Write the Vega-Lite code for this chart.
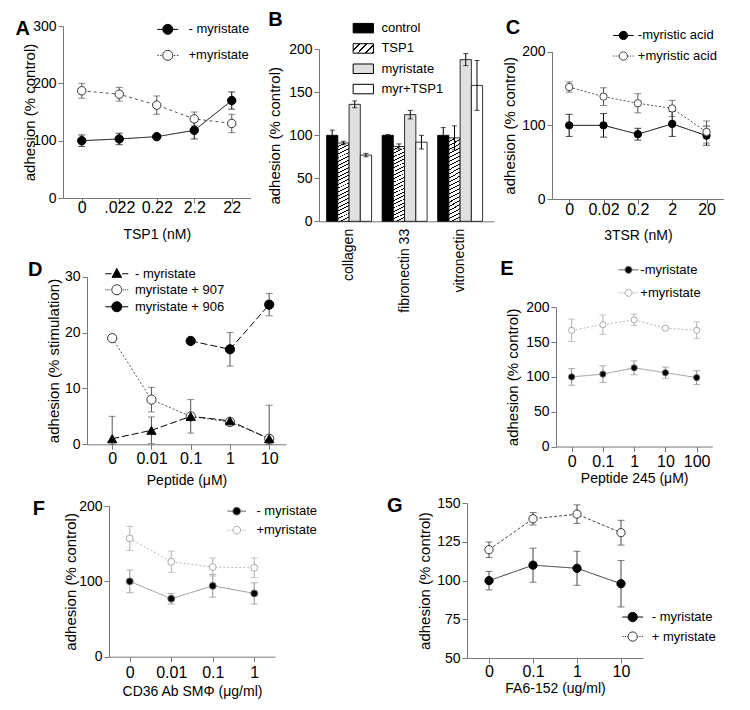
{
"$schema": "https://vega.github.io/schema/vega-lite/v6.json",
"background": "white",
"padding": {"left": 15, "top": 5, "right": 5, "bottom": 5},
"columns": 7,
"align": "none",
"bounds": "flush",
"spacing": 0,
"resolve": {"scale": {"color": "independent", "fill": "independent", "stroke": "independent", "strokeDash": "independent", "shape": "independent"}, "legend": {"color": "independent", "fill": "independent", "stroke": "independent", "strokeDash": "independent", "shape": "independent"}},
"config": {
 "view": {"stroke": null},
 "font": "Liberation Sans",
 "axis": {"domainColor": "#777", "tickColor": "#777", "tickSize": 5, "labelColor": "black", "titleColor": "black", "titleFontWeight": "normal", "grid": false, "labelFont": "Liberation Sans", "titleFont": "Liberation Sans"},
 "axisX": {"labelFontSize": 16, "titleFontSize": 14, "labelAngle": 0, "labelPadding": 2},
 "axisY": {"labelFontSize": 14, "titleFontSize": 15, "labelPadding": 2},
 "legend": {"labelFont": "Liberation Sans", "labelFontSize": 13, "labelColor": "black", "padding": 0, "offset": 0, "symbolStrokeWidth": 1, "symbolOpacity": 1},
 "title": {"font": "Liberation Sans", "fontSize": 20, "fontWeight": "bold", "color": "black", "anchor": "start", "frame": "group", "offset": 0}
},
"datasets": {
 "A": [
  {"c":"0","s":"- myristate","v":100,"lo":90,"hi":110},
  {"c":".022","s":"- myristate","v":103,"lo":93,"hi":113},
  {"c":"0.22","s":"- myristate","v":107,"lo":104,"hi":110},
  {"c":"2.2","s":"- myristate","v":118,"lo":103,"hi":133},
  {"c":"22","s":"- myristate","v":170,"lo":155,"hi":185},
  {"c":"0","s":"+myristate","v":187,"lo":174,"hi":200},
  {"c":".022","s":"+myristate","v":181,"lo":169,"hi":193},
  {"c":"0.22","s":"+myristate","v":162,"lo":146,"hi":178},
  {"c":"2.2","s":"+myristate","v":138,"lo":126,"hi":150},
  {"c":"22","s":"+myristate","v":130,"lo":114,"hi":146}
 ],
 "B": [
  {"sub":"collagen","t":"control","v":100,"lo":94,"hi":106},
  {"sub":"collagen","t":"TSP1","v":91,"lo":89,"hi":93},
  {"sub":"collagen","t":"myristate","v":136,"lo":132,"hi":140},
  {"sub":"collagen","t":"myr+TSP1","v":77,"lo":75,"hi":79},
  {"sub":"fibronectin 33","t":"control","v":100,"lo":99,"hi":101},
  {"sub":"fibronectin 33","t":"TSP1","v":87,"lo":84,"hi":90},
  {"sub":"fibronectin 33","t":"myristate","v":124,"lo":119,"hi":129},
  {"sub":"fibronectin 33","t":"myr+TSP1","v":92,"lo":84,"hi":100},
  {"sub":"vitronectin","t":"control","v":100,"lo":91,"hi":109},
  {"sub":"vitronectin","t":"TSP1","v":97,"lo":83,"hi":111},
  {"sub":"vitronectin","t":"myristate","v":188,"lo":181,"hi":195},
  {"sub":"vitronectin","t":"myr+TSP1","v":158,"lo":129,"hi":187}
 ],
 "C": [
  {"c":"0","s":"-myristic acid","v":100,"lo":85,"hi":115},
  {"c":"0.02","s":"-myristic acid","v":100,"lo":84,"hi":116},
  {"c":"0.2","s":"-myristic acid","v":88,"lo":80,"hi":96},
  {"c":"2","s":"-myristic acid","v":102,"lo":85,"hi":119},
  {"c":"20","s":"-myristic acid","v":86,"lo":73,"hi":99},
  {"c":"0","s":"+myristic acid","v":152,"lo":145,"hi":159},
  {"c":"0.02","s":"+myristic acid","v":139,"lo":127,"hi":151},
  {"c":"0.2","s":"+myristic acid","v":130,"lo":117,"hi":143},
  {"c":"2","s":"+myristic acid","v":123,"lo":112,"hi":134},
  {"c":"20","s":"+myristic acid","v":91,"lo":76,"hi":106}
 ],
 "D": [
  {"c":"0","s":"myristate + 907","v":19,"lo":null,"hi":null},
  {"c":"0.01","s":"myristate + 907","v":8,"lo":5.8,"hi":10.2},
  {"c":"0.1","s":"myristate + 907","v":5,"lo":null,"hi":null},
  {"c":"1","s":"myristate + 907","v":4,"lo":null,"hi":null},
  {"c":"10","s":"myristate + 907","v":1,"lo":null,"hi":null},
  {"c":"0.1","s":"myristate + 906","v":18.5,"lo":null,"hi":null},
  {"c":"1","s":"myristate + 906","v":17,"lo":14,"hi":20},
  {"c":"10","s":"myristate + 906","v":25,"lo":23,"hi":27},
  {"c":"0","s":"- myristate","v":1,"lo":0,"hi":5},
  {"c":"0.01","s":"- myristate","v":2.5,"lo":0.1,"hi":4.9},
  {"c":"0.1","s":"- myristate","v":5,"lo":2,"hi":8},
  {"c":"1","s":"- myristate","v":4.2,"lo":3.8,"hi":4.6},
  {"c":"10","s":"- myristate","v":1,"lo":0,"hi":7}
 ],
 "E": [
  {"c":"0","s":"-myristate","v":100,"lo":88,"hi":112},
  {"c":"0.1","s":"-myristate","v":104,"lo":92,"hi":116},
  {"c":"1","s":"-myristate","v":113,"lo":103,"hi":123},
  {"c":"10","s":"-myristate","v":106,"lo":98,"hi":114},
  {"c":"100","s":"-myristate","v":99,"lo":89,"hi":109},
  {"c":"0","s":"+myristate","v":167,"lo":151,"hi":183},
  {"c":"0.1","s":"+myristate","v":175,"lo":161,"hi":189},
  {"c":"1","s":"+myristate","v":182,"lo":174,"hi":190},
  {"c":"10","s":"+myristate","v":170,"lo":168,"hi":172},
  {"c":"100","s":"+myristate","v":167,"lo":155,"hi":179}
 ],
 "F": [
  {"c":"0","s":"- myristate","v":100,"lo":85,"hi":115},
  {"c":"0.01","s":"- myristate","v":77,"lo":70,"hi":84},
  {"c":"0.1","s":"- myristate","v":94,"lo":79,"hi":109},
  {"c":"1","s":"- myristate","v":84,"lo":70,"hi":98},
  {"c":"0","s":"+myristate","v":157,"lo":141,"hi":173},
  {"c":"0.01","s":"+myristate","v":126,"lo":112,"hi":140},
  {"c":"0.1","s":"+myristate","v":119,"lo":107,"hi":131},
  {"c":"1","s":"+myristate","v":118,"lo":105,"hi":131}
 ],
 "G": [
  {"c":"0","s":"- myristate","v":100,"lo":94,"hi":106},
  {"c":"0.1","s":"- myristate","v":110,"lo":99,"hi":121},
  {"c":"1","s":"- myristate","v":108,"lo":97,"hi":119},
  {"c":"10","s":"- myristate","v":98,"lo":83,"hi":113},
  {"c":"0","s":"+ myristate","v":120,"lo":115,"hi":125},
  {"c":"0.1","s":"+ myristate","v":140,"lo":136,"hi":144},
  {"c":"1","s":"+ myristate","v":143,"lo":137,"hi":149},
  {"c":"10","s":"+ myristate","v":131,"lo":123,"hi":139}
 ],
 "empty": []
},
"concat": [
  {"width": 23.5, "height": 193, "data": {"name": "A"},
   "title": {"text": "A", "dx": -47.5, "dy": 37.7},
   "encoding": {"x": {"field": "c", "type": "ordinal", "sort": ["0",".022","0.22","2.2","22"], "scale": {"type": "point", "padding": 0.5, "range": [0, 187.5]}, "axis": {"title": "TSP1 (nM)", "labelPadding": -3.5, "titlePadding": 11.5}}},
   "layer": [
    {"mark": {"type": "errorbar", "ticks": {"size": 7}}, "encoding": {"y": {"field": "lo", "type": "quantitative", "title": "adhesion (% control)", "scale": {"domain": [0,300], "nice": false, "range": [193, 21]}, "axis": {"values": [0,100,200,300], "titlePadding": -4.4}}, "y2": {"field": "hi"}, "color": {"condition": {"test": "datum.s === '+myristate'", "value": "#555"}, "value": "black"}}},
    {"mark": {"type": "line", "strokeWidth": 1}, "encoding": {"y": {"field": "v", "type": "quantitative", "title": "adhesion (% control)"}, "detail": {"field": "s"}, "color": {"condition": {"test": "datum.s === '+myristate'", "value": "#555"}, "value": "black"}, "strokeDash": {"condition": {"test": "datum.s === '+myristate'", "value": [3,3]}, "value": [1,0]}}},
    {"mark": {"type": "point", "filled": false, "opacity": 1, "size": 71, "strokeWidth": 1}, "encoding": {"y": {"field": "v", "type": "quantitative", "title": "adhesion (% control)"},
      "stroke": {"field": "s", "type": "nominal", "scale": {"domain": ["- myristate","+myristate"], "range": ["black","#333"]}, "legend": {"orient": "none", "legendX": 93.8, "legendY": 13.35, "title": null, "symbolSize": 441, "labelOffset": 9.7, "rowPadding": 8}},
      "fill": {"field": "s", "type": "nominal", "scale": {"domain": ["- myristate","+myristate"], "range": ["black","white"]}, "legend": {"orient": "none", "legendX": 93.8, "legendY": 13.35, "title": null, "symbolSize": 441, "labelOffset": 9.7, "rowPadding": 8}}}},
    {"mark": {"type": "point", "opacity": 0}, "encoding": {"y": {"field": "v", "type": "quantitative", "title": "adhesion (% control)"},
      "shape": {"field": "s", "type": "nominal", "scale": {"domain": ["- myristate","+myristate"], "range": ["M-1,0H-0.476M0.476,0H1M0.476,0A0.476,0.476,0,1,1,-0.476,0A0.476,0.476,0,1,1,0.476,0Z", "M-1,0H-0.86M-0.72,0H-0.58M0.58,0H0.72M0.86,0H1M0.476,0A0.476,0.476,0,1,1,-0.476,0A0.476,0.476,0,1,1,0.476,0Z"]}, "legend": {"orient": "none", "legendX": 93.8, "legendY": 13.35, "title": null, "symbolSize": 441, "labelOffset": 9.7, "rowPadding": 8}}}}
   ]},
  {"width": 21.3, "height": 250, "data": {"name": "empty"}, "mark": "point"},
  {"width": 209.4, "height": 1, "data": {"name": "empty"}, "mark": "point"},
  {"width": 147.3, "height": 216.3, "data": {"name": "B"},
     "title": {"text": "B", "dx": -50.7, "dy": 29},
     "encoding": {
      "x": {"field": "sub", "type": "nominal", "sort": ["collagen","fibronectin 33","vitronectin"], "scale": {"range": [0, 175], "paddingInner": 0.19, "paddingOuter": 0.171, "align": 0.4}, "axis": {"title": null, "labelAngle": -90, "labelAlign": "right", "labelBaseline": "middle", "labelPadding": 7, "ticks": false, "labelFontSize": 14}},
      "xOffset": {"field": "t", "type": "nominal", "sort": ["control","TSP1","myristate","myr+TSP1"], "scale": {"paddingInner": 0, "paddingOuter": 0}}
     },
     "layer": [
      {"mark": {"type": "bar", "stroke": "black", "strokeWidth": 0.8},
       "encoding": {"y": {"field": "v", "type": "quantitative", "title": "adhesion (% control)", "scale": {"domain": [0,200], "nice": false, "range": [216.3, 44.3]}, "axis": {"values": [0,50,100,150,200], "titlePadding": 6}},
        "fill": {"condition": {"test": "datum.t === 'TSP1'", "value": {"gradient": "linear", "x1": 0, "y1": 0, "x2": 0.0757, "y2": 1.066, "stops": [
{"offset":0,"color":"white"},{"offset":0.0341,"color":"white"},{"offset":0.0341,"color":"black"},{"offset":0.0455,"color":"black"},
{"offset":0.0455,"color":"white"},{"offset":0.0795,"color":"white"},{"offset":0.0795,"color":"black"},{"offset":0.0909,"color":"black"},
{"offset":0.0909,"color":"white"},{"offset":0.125,"color":"white"},{"offset":0.125,"color":"black"},{"offset":0.1364,"color":"black"},
{"offset":0.1364,"color":"white"},{"offset":0.1705,"color":"white"},{"offset":0.1705,"color":"black"},{"offset":0.1818,"color":"black"},
{"offset":0.1818,"color":"white"},{"offset":0.2159,"color":"white"},{"offset":0.2159,"color":"black"},{"offset":0.2273,"color":"black"},
{"offset":0.2273,"color":"white"},{"offset":0.2614,"color":"white"},{"offset":0.2614,"color":"black"},{"offset":0.2727,"color":"black"},
{"offset":0.2727,"color":"white"},{"offset":0.3068,"color":"white"},{"offset":0.3068,"color":"black"},{"offset":0.3182,"color":"black"},
{"offset":0.3182,"color":"white"},{"offset":0.3523,"color":"white"},{"offset":0.3523,"color":"black"},{"offset":0.3636,"color":"black"},
{"offset":0.3636,"color":"white"},{"offset":0.3977,"color":"white"},{"offset":0.3977,"color":"black"},{"offset":0.4091,"color":"black"},
{"offset":0.4091,"color":"white"},{"offset":0.4432,"color":"white"},{"offset":0.4432,"color":"black"},{"offset":0.4545,"color":"black"},
{"offset":0.4545,"color":"white"},{"offset":0.4886,"color":"white"},{"offset":0.4886,"color":"black"},{"offset":0.5,"color":"black"},
{"offset":0.5,"color":"white"},{"offset":0.5341,"color":"white"},{"offset":0.5341,"color":"black"},{"offset":0.5455,"color":"black"},
{"offset":0.5455,"color":"white"},{"offset":0.5795,"color":"white"},{"offset":0.5795,"color":"black"},{"offset":0.5909,"color":"black"},
{"offset":0.5909,"color":"white"},{"offset":0.625,"color":"white"},{"offset":0.625,"color":"black"},{"offset":0.6364,"color":"black"},
{"offset":0.6364,"color":"white"},{"offset":0.6705,"color":"white"},{"offset":0.6705,"color":"black"},{"offset":0.6818,"color":"black"},
{"offset":0.6818,"color":"white"},{"offset":0.7159,"color":"white"},{"offset":0.7159,"color":"black"},{"offset":0.7273,"color":"black"},
{"offset":0.7273,"color":"white"},{"offset":0.7614,"color":"white"},{"offset":0.7614,"color":"black"},{"offset":0.7727,"color":"black"},
{"offset":0.7727,"color":"white"},{"offset":0.8068,"color":"white"},{"offset":0.8068,"color":"black"},{"offset":0.8182,"color":"black"},
{"offset":0.8182,"color":"white"},{"offset":0.8523,"color":"white"},{"offset":0.8523,"color":"black"},{"offset":0.8636,"color":"black"},
{"offset":0.8636,"color":"white"},{"offset":0.8977,"color":"white"},{"offset":0.8977,"color":"black"},{"offset":0.9091,"color":"black"},
{"offset":0.9091,"color":"white"},{"offset":0.9432,"color":"white"},{"offset":0.9432,"color":"black"},{"offset":0.9545,"color":"black"},
{"offset":0.9545,"color":"white"},{"offset":0.9886,"color":"white"},{"offset":0.9886,"color":"black"},{"offset":1,"color":"black"}]}},
         "field": "t", "type": "nominal", "scale": {"domain": ["control","TSP1","myristate","myr+TSP1"], "range": ["black", {"expr": "{gradient: 'linear', x1: 0, y1: 0, x2: 1.205, y2: 0.545, stops: [{offset: 0, color: 'white'}, {offset: 0.1875, color: 'white'}, {offset: 0.1875, color: 'black'}, {offset: 0.25, color: 'black'}, {offset: 0.25, color: 'white'}, {offset: 0.4375, color: 'white'}, {offset: 0.4375, color: 'black'}, {offset: 0.5, color: 'black'}, {offset: 0.5, color: 'white'}, {offset: 0.6875, color: 'white'}, {offset: 0.6875, color: 'black'}, {offset: 0.75, color: 'black'}, {offset: 0.75, color: 'white'}, {offset: 0.9375, color: 'white'}, {offset: 0.9375, color: 'black'}, {offset: 1, color: 'black'}]}"}, "#e0e0e0", "white"]},
         "legend": {"orient": "none", "legendX": 33.3, "legendY": 12.15, "title": null, "symbolSize": 412, "symbolType": "M-1,-0.468H1V0.468H-1Z", "symbolStrokeColor": "black", "labelOffset": 7.1, "rowPadding": 2.3}}}},
      {"mark": {"type": "rule", "color": "black", "strokeWidth": 1}, "encoding": {"y": {"field": "lo", "type": "quantitative", "title": "adhesion (% control)"}, "y2": {"field": "hi"}}},
      {"mark": {"type": "tick", "color": "black", "thickness": 1, "size": 5, "orient": "horizontal"}, "encoding": {"y": {"field": "lo", "type": "quantitative", "title": "adhesion (% control)"}}},
      {"mark": {"type": "tick", "color": "black", "thickness": 1, "size": 5, "orient": "horizontal"}, "encoding": {"y": {"field": "hi", "type": "quantitative", "title": "adhesion (% control)"}}}
     ]},
  {"width": 84.3, "height": 1, "data": {"name": "empty"}, "mark": "point"},
  {"width": 3.4, "height": 194, "data": {"name": "C"},
     "title": {"text": "C", "dx": -46.3, "dy": 36.7},
     "encoding": {"x": {"field": "c", "type": "ordinal", "sort": ["0","0.02","0.2","2","20"], "scale": {"type": "point", "padding": 0.5, "range": [0, 171.7]}, "axis": {"title": "3TSR (nM)", "labelPadding": -3, "titlePadding": 11}}},
     "layer": [
      {"mark": {"type": "errorbar", "ticks": {"size": 7}}, "encoding": {"y": {"field": "lo", "type": "quantitative", "title": "adhesion (% control)", "scale": {"domain": [0,200], "nice": false, "range": [194, 46.7]}, "axis": {"values": [0,100,200], "titlePadding": 4.1}}, "y2": {"field": "hi"}, "color": {"condition": {"test": "datum.s === '+myristic acid'", "value": "#555"}, "value": "black"}}},
      {"mark": {"type": "line", "strokeWidth": 1}, "encoding": {"y": {"field": "v", "type": "quantitative", "title": "adhesion (% control)"}, "detail": {"field": "s"}, "color": {"condition": {"test": "datum.s === '+myristic acid'", "value": "#555"}, "value": "black"}, "strokeDash": {"condition": {"test": "datum.s === '+myristic acid'", "value": [2,2]}, "value": [1,0]}}},
      {"mark": {"type": "point", "filled": false, "opacity": 1, "size": 54, "strokeWidth": 1}, "encoding": {"y": {"field": "v", "type": "quantitative", "title": "adhesion (% control)"},
        "stroke": {"field": "s", "type": "nominal", "scale": {"domain": ["-myristic acid","+myristic acid"], "range": ["black","#444"]}, "legend": {"orient": "none", "legendX": 60.4, "legendY": 19.45, "title": null, "symbolSize": 424, "labelOffset": 3.4, "rowPadding": 2.6}},
        "fill": {"field": "s", "type": "nominal", "scale": {"domain": ["-myristic acid","+myristic acid"], "range": ["black","white"]}, "legend": {"orient": "none", "legendX": 60.4, "legendY": 19.45, "title": null, "symbolSize": 424, "labelOffset": 3.4, "rowPadding": 2.6}}}},
      {"mark": {"type": "point", "opacity": 0}, "encoding": {"y": {"field": "v", "type": "quantitative", "title": "adhesion (% control)"},
        "shape": {"field": "s", "type": "nominal", "scale": {"domain": ["-myristic acid","+myristic acid"], "range": ["M-1,0H-0.403M0.403,0H1M0.403,0A0.403,0.403,0,1,1,-0.403,0A0.403,0.403,0,1,1,0.403,0Z", "M-1,0H-0.88M-0.76,0H-0.64M-0.52,0H-0.42M0.42,0H0.52M0.64,0H0.76M0.88,0H1M0.403,0A0.403,0.403,0,1,1,-0.403,0A0.403,0.403,0,1,1,0.403,0Z"]}, "legend": {"orient": "none", "legendX": 60.4, "legendY": 19.45, "title": null, "symbolSize": 424, "labelOffset": 3.4, "rowPadding": 2.6}}}}
     ]},
  {"width": 1, "height": 1, "data": {"name": "empty"}, "mark": "point"},
  {"width": 1, "height": 233, "data": {"name": "empty"}, "mark": "point"},
  {"width": 21.3, "height": 189.3, "data": {"name": "D"},
    "title": {"text": "D", "dx": -59, "dy": 28.5},
    "encoding": {"x": {"field": "c", "type": "ordinal", "sort": ["0","0.01","0.1","1","10"], "scale": {"type": "point", "padding": 0.535, "align": 0.6, "range": [0, 199]}, "axis": {"title": "Peptide (μM)", "labelPadding": 1, "titlePadding": 7}}},
    "layer": [
     {"mark": {"type": "errorbar", "ticks": {"size": 7}, "color": "#555"}, "encoding": {"y": {"field": "lo", "type": "quantitative", "title": "adhesion (% stimulation)", "scale": {"domain": [0,30], "nice": false, "range": [189.3, 21.7]}, "axis": {"values": [0,10,20,30], "titlePadding": 2.9}}, "y2": {"field": "hi"}}},
     {"mark": {"type": "line", "strokeWidth": 1}, "encoding": {"y": {"field": "v", "type": "quantitative", "title": "adhesion (% stimulation)"}, "detail": {"field": "s"}, "strokeDash": {"condition": {"test": "datum.s === 'myristate + 907'", "value": [2,2]}, "value": [7,3]}, "color": {"condition": {"test": "datum.s === 'myristate + 907'", "value": "#555"}, "value": "black"}}},
     {"mark": {"type": "point", "filled": false, "opacity": 1, "size": 85, "strokeWidth": 1}, "encoding": {"y": {"field": "v", "type": "quantitative", "title": "adhesion (% stimulation)"},
       "shape": {"condition": {"test": "datum.s === '- myristate'", "value": "triangle-up"}, "value": "circle"},
       "stroke": {"field": "s", "type": "nominal", "scale": {"domain": ["- myristate","myristate + 907","myristate + 906"], "range": ["black","#333","black"]}, "legend": {"orient": "none", "legendX": 20.8, "legendY": 9.75, "title": null, "symbolSize": 289, "labelOffset": 9.2, "rowPadding": 0}},
       "fill": {"field": "s", "type": "nominal", "scale": {"domain": ["- myristate","myristate + 907","myristate + 906"], "range": ["black","white","black"]}, "legend": {"orient": "none", "legendX": 20.8, "legendY": 9.75, "title": null, "symbolSize": 289, "labelOffset": 9.2, "rowPadding": 0}}}},
     {"mark": {"type": "point", "opacity": 0}, "encoding": {"y": {"field": "v", "type": "quantitative", "title": "adhesion (% stimulation)"},
       "shape": {"field": "s", "type": "nominal", "scale": {"domain": ["- myristate","myristate + 907","myristate + 906"], "range": ["M-1.35,0H-0.62M0.62,0H1.35M0,-0.62L0.56,0.42L-0.56,0.42Z", "M-1.35,0H-1.23M-1.11,0H-0.99M-0.87,0H-0.75M0.75,0H0.87M0.99,0H1.11M1.23,0H1.35M0.59,0A0.59,0.59,0,1,1,-0.59,0A0.59,0.59,0,1,1,0.59,0Z", "M-1.35,0H-0.59M0.59,0H1.35M0.59,0A0.59,0.59,0,1,1,-0.59,0A0.59,0.59,0,1,1,0.59,0Z"]}, "legend": {"orient": "none", "legendX": 20.8, "legendY": 9.75, "title": null, "symbolSize": 289, "labelOffset": 9.2, "rowPadding": 0}}}}
    ]},
  {"width": 1, "height": 1, "data": {"name": "empty"}, "mark": "point"},
  {"width": 1, "height": 1, "data": {"name": "empty"}, "mark": "point"},
  {"width": 1, "height": 1, "data": {"name": "empty"}, "mark": "point"},
  {"width": 1, "height": 1, "data": {"name": "empty"}, "mark": "point"},
  {"width": 156.3, "height": 191.5, "data": {"name": "E"},
     "title": {"text": "E", "dx": -55.7, "dy": 27.5},
     "encoding": {"x": {"field": "c", "type": "ordinal", "sort": ["0","0.1","1","10","100"], "scale": {"type": "point", "padding": 0.5}, "axis": {"title": "Peptide 245 (μM)", "titlePadding": 2}}},
     "layer": [
      {"mark": {"type": "errorbar", "ticks": {"size": 7}}, "encoding": {"y": {"field": "lo", "type": "quantitative", "title": "adhesion (% control)", "scale": {"domain": [0,200], "nice": false, "range": [191.5, 52.3]}, "axis": {"values": [0,50,100,150,200], "titlePadding": 5.5}}, "y2": {"field": "hi"}, "color": {"condition": {"test": "datum.s === '+myristate'", "value": "#b0b0b0"}, "value": "#909090"}}},
      {"mark": {"type": "line", "strokeWidth": 1}, "encoding": {"y": {"field": "v", "type": "quantitative", "title": "adhesion (% control)"}, "detail": {"field": "s"}, "color": {"condition": {"test": "datum.s === '+myristate'", "value": "#bbb"}, "value": "#999"}, "strokeDash": {"condition": {"test": "datum.s === '+myristate'", "value": [2,2]}, "value": [1,0]}}},
      {"mark": {"type": "point", "filled": false, "opacity": 1, "size": 38, "strokeWidth": 1}, "encoding": {"y": {"field": "v", "type": "quantitative", "title": "adhesion (% control)"},
        "stroke": {"field": "s", "type": "nominal", "scale": {"domain": ["-myristate","+myristate"], "range": ["#666","#aaa"]}, "legend": {"orient": "none", "legendX": 62, "legendY": 4.35, "title": null, "symbolSize": 400, "labelOffset": 1.3, "rowPadding": 5}},
        "fill": {"field": "s", "type": "nominal", "scale": {"domain": ["-myristate","+myristate"], "range": ["black","white"]}, "legend": {"orient": "none", "legendX": 62, "legendY": 4.35, "title": null, "symbolSize": 400, "labelOffset": 1.3, "rowPadding": 5}}}},
      {"mark": {"type": "point", "opacity": 0}, "encoding": {"y": {"field": "v", "type": "quantitative", "title": "adhesion (% control)"},
        "shape": {"field": "s", "type": "nominal", "scale": {"domain": ["-myristate","+myristate"], "range": ["M-1,0H-0.35M0.35,0H1M0.35,0A0.35,0.35,0,1,1,-0.35,0A0.35,0.35,0,1,1,0.35,0Z", "M-1,0H-0.88M-0.76,0H-0.64M-0.52,0H-0.4M0.4,0H0.52M0.64,0H0.76M0.88,0H1M0.35,0A0.35,0.35,0,1,1,-0.35,0A0.35,0.35,0,1,1,0.35,0Z"]}, "legend": {"orient": "none", "legendX": 62, "legendY": 4.35, "title": null, "symbolSize": 400, "labelOffset": 1.3, "rowPadding": 5}}}}
     ]},
  {"width": 1, "height": 1, "data": {"name": "empty"}, "mark": "point"},
  {"width": 1, "height": 1, "data": {"name": "empty"}, "mark": "point"},
  {"width": 166, "height": 168.7, "data": {"name": "F"},
     "title": {"text": "F", "dx": -76.3, "dy": 34.7},
     "encoding": {"x": {"field": "c", "type": "ordinal", "sort": ["0","0.01","0.1","1"], "scale": {"type": "point", "padding": 0.5}, "axis": {"title": "CD36 Ab SMΦ (μg/ml)", "labelPadding": 3, "titlePadding": 3.3}}},
     "layer": [
      {"mark": {"type": "errorbar", "ticks": {"size": 7}}, "encoding": {"y": {"field": "lo", "type": "quantitative", "title": "adhesion (% control)", "scale": {"domain": [0,200], "nice": false, "range": [168.7, 18]}, "axis": {"values": [0,100,200], "titlePadding": -0.3}}, "y2": {"field": "hi"}, "color": {"condition": {"test": "datum.s === '+myristate'", "value": "#b0b0b0"}, "value": "#909090"}}},
      {"mark": {"type": "line", "strokeWidth": 1}, "encoding": {"y": {"field": "v", "type": "quantitative", "title": "adhesion (% control)"}, "detail": {"field": "s"}, "color": {"condition": {"test": "datum.s === '+myristate'", "value": "#bbb"}, "value": "#999"}, "strokeDash": {"condition": {"test": "datum.s === '+myristate'", "value": [2,2]}, "value": [1,0]}}},
      {"mark": {"type": "point", "filled": false, "opacity": 1, "size": 47, "strokeWidth": 1}, "encoding": {"y": {"field": "v", "type": "quantitative", "title": "adhesion (% control)"},
        "stroke": {"field": "s", "type": "nominal", "scale": {"domain": ["- myristate","+myristate"], "range": ["#666","#aaa"]}, "legend": {"orient": "none", "legendX": 117.7, "legendY": 13.15, "title": null, "symbolSize": 346, "labelOffset": 9.7, "rowPadding": 2}},
        "fill": {"field": "s", "type": "nominal", "scale": {"domain": ["- myristate","+myristate"], "range": ["black","white"]}, "legend": {"orient": "none", "legendX": 117.7, "legendY": 13.15, "title": null, "symbolSize": 346, "labelOffset": 9.7, "rowPadding": 2}}}},
      {"mark": {"type": "point", "opacity": 0}, "encoding": {"y": {"field": "v", "type": "quantitative", "title": "adhesion (% control)"},
        "shape": {"field": "s", "type": "nominal", "scale": {"domain": ["- myristate","+myristate"], "range": ["M-1,0H-0.414M0.414,0H1M0.414,0A0.414,0.414,0,1,1,-0.414,0A0.414,0.414,0,1,1,0.414,0Z", "M-1,0H-0.88M-0.76,0H-0.64M-0.52,0H-0.44M0.44,0H0.52M0.64,0H0.76M0.88,0H1M0.414,0A0.414,0.414,0,1,1,-0.414,0A0.414,0.414,0,1,1,0.414,0Z"]}, "legend": {"orient": "none", "legendX": 117.7, "legendY": 13.15, "title": null, "symbolSize": 346, "labelOffset": 9.7, "rowPadding": 2}}}}
     ]},
  {"width": 1, "height": 1, "data": {"name": "empty"}, "mark": "point"},
  {"width": 84.3, "height": 170, "data": {"name": "G"},
    "title": {"text": "G", "dx": -80, "dy": 31.5},
    "encoding": {"x": {"field": "c", "type": "ordinal", "sort": ["0","0.1","1","10"], "scale": {"type": "point", "padding": 0.5, "range": [0, 176]}, "axis": {"title": "FA6-152 (ug/ml)", "labelPadding": 0, "titlePadding": 2.5}}},
    "layer": [
     {"mark": {"type": "errorbar", "ticks": {"size": 7}, "color": "#444"}, "encoding": {"y": {"field": "lo", "type": "quantitative", "title": "adhesion (% control)", "scale": {"domain": [50,150], "nice": false, "range": [170, 15.3]}, "axis": {"values": [50,75,100,125,150], "titlePadding": 4.5}}, "y2": {"field": "hi"}}},
     {"mark": {"type": "line", "strokeWidth": 1}, "encoding": {"y": {"field": "v", "type": "quantitative", "title": "adhesion (% control)"}, "detail": {"field": "s"}, "color": {"condition": {"test": "datum.s === '+ myristate'", "value": "#444"}, "value": "#333"}, "strokeDash": {"condition": {"test": "datum.s === '+ myristate'", "value": [3,2]}, "value": [1,0]}}},
     {"mark": {"type": "point", "filled": false, "opacity": 1, "size": 68, "strokeWidth": 1}, "encoding": {"y": {"field": "v", "type": "quantitative", "title": "adhesion (% control)"},
       "stroke": {"field": "s", "type": "nominal", "scale": {"domain": ["- myristate","+ myristate"], "range": ["black","#333"]}, "legend": {"orient": "none", "legendX": 154.7, "legendY": 118.05, "title": null, "symbolSize": 428, "labelOffset": 8, "rowPadding": 1.5}},
       "fill": {"field": "s", "type": "nominal", "scale": {"domain": ["- myristate","+ myristate"], "range": ["black","white"]}, "legend": {"orient": "none", "legendX": 154.7, "legendY": 118.05, "title": null, "symbolSize": 428, "labelOffset": 8, "rowPadding": 1.5}}}},
     {"mark": {"type": "point", "opacity": 0}, "encoding": {"y": {"field": "v", "type": "quantitative", "title": "adhesion (% control)"},
       "shape": {"field": "s", "type": "nominal", "scale": {"domain": ["- myristate","+ myristate"], "range": ["M-1,0H-0.45M0.45,0H1M0.45,0A0.45,0.45,0,1,1,-0.45,0A0.45,0.45,0,1,1,0.45,0Z", "M-1,0H-0.88M-0.76,0H-0.64M-0.55,0H-0.47M0.47,0H0.55M0.64,0H0.76M0.88,0H1M0.45,0A0.45,0.45,0,1,1,-0.45,0A0.45,0.45,0,1,1,0.45,0Z"]}, "legend": {"orient": "none", "legendX": 154.7, "legendY": 118.05, "title": null, "symbolSize": 428, "labelOffset": 8, "rowPadding": 1.5}}}}
    ]},
  {"width": 1, "height": 1, "data": {"name": "empty"}, "mark": "point"},
  {"width": 1, "height": 1, "data": {"name": "empty"}, "mark": "point"}
]
}
